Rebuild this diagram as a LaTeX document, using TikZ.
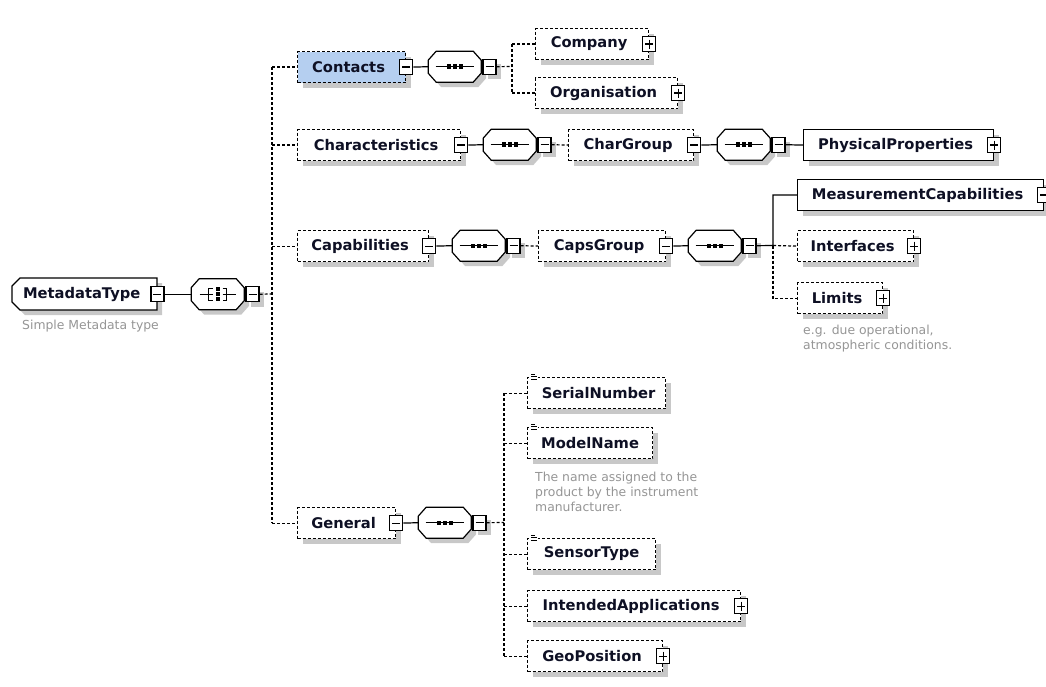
\documentclass[tikz,border=0pt]{standalone}
\usepackage{fontspec}
\setmainfont{DejaVu Sans}
\usetikzlibrary{shadows}
\definecolor{shadowc}{RGB}{200,200,200}
\definecolor{hl}{RGB}{181,207,240}
\definecolor{descc}{RGB}{150,150,150}
\definecolor{txt}{RGB}{14,16,36}
\newcommand\lbl{\fontsize{14.7}{17}\selectfont\bfseries}
\newcommand\dsc{\fontsize{12.4}{15}\selectfont}
\tikzset{
  ln/.style={line width=1.2pt, draw=black},
  dl/.style={ln, dash pattern=on 3pt off 2pt},
  sl/.style={ln},
  box/.style={draw=black, line width=1.2pt, fill=white, minimum height=31pt, inner sep=0pt,
    anchor=north west, text=txt, font=\lbl,
    drop shadow={shadow xshift=5pt, shadow yshift=-5pt, fill=shadowc, opacity=1}},
  optbox/.style={box, dash pattern=on 3pt off 2pt},
  reqbox/.style={box},
  btn/.style={draw=black, solid, line width=1.2pt, fill=white, minimum width=13pt,
    minimum height=15pt, inner sep=0pt},
  minusbtn/.style={btn, path picture={\draw[line width=1.2pt]
    ([xshift=2.5pt]path picture bounding box.west) -- ([xshift=-2.5pt]path picture bounding box.east);}},
  plusbtn/.style={btn, path picture={\draw[line width=1.2pt]
    ([xshift=2.5pt]path picture bounding box.west) -- ([xshift=-2.5pt]path picture bounding box.east)
    ([yshift=-3pt]path picture bounding box.north) -- ([yshift=3pt]path picture bounding box.south);}},
  comp/.style={minimum width=53pt, minimum height=31pt, inner sep=0pt, anchor=north west},
  desc/.style={anchor=north west, inner sep=0pt, text=descc, font=\dsc, align=left},
  cshadow/.style={drop shadow={shadow xshift=5pt, shadow yshift=-5pt, fill=shadowc, opacity=1}},
}
% compositor octagon around a named node
\newcommand\octo[1]{%
  \begin{scope}[shift={(#1.center)}]
    \fill[shadowc, shift={(5,5)}] (-18.5,-15.5) -- (18.5,-15.5) -- (26.5,-6.5) -- (26.5,6.5)
      -- (18.5,15.5) -- (-18.5,15.5) -- (-26.5,6.5) -- (-26.5,-6.5) -- cycle;
    \draw[ln, fill=white] (-18.5,-15.5) -- (18.5,-15.5) -- (26.5,-6.5) -- (26.5,6.5)
      -- (18.5,15.5) -- (-18.5,15.5) -- (-26.5,6.5) -- (-26.5,-6.5) -- cycle;
  \end{scope}}
\newcommand\seqc[3]{%
  \node[comp] (#1) at (#2,#3) {};
  \octo{#1}
  \begin{scope}[shift={(#1.center)}]
    \draw[ln] (-19,0) -- (19,0);
    \foreach \d in {-6,0,6} \fill (\d-2.2,-2.2) rectangle (\d+2.2,2.2);
  \end{scope}
  \node[minusbtn, cshadow, anchor=west] (#1-b) at ([xshift=1pt]#1.east) {};}
\begin{document}
\begin{tikzpicture}[x=1pt,y=-1pt]
\useasboundingbox (0,0) rectangle (1046,687);
\fill[white] (0,0) rectangle (1046,687);

% ---- root element
\fill[shadowc, shift={(5,5)}] (20,278) -- (157,278) -- (157,310) -- (20,310) -- (12,302) -- (12,286) -- cycle;
\draw[ln, fill=white] (20,278) -- (157,278) -- (157,310) -- (20,310) -- (12,302) -- (12,286) -- cycle;
\node[minimum width=145pt, minimum height=32pt, inner sep=0pt, anchor=north west, text=txt, font=\lbl]
  (mt) at (12,278) {MetadataType\kern6pt};
\node[minusbtn] (mt-b) at (mt.east) {};
\node[desc, anchor=west] (mtdesc) at (22,326) {Simple Metadata type};

% ---- "all" compositor
\node[comp, minimum height=32pt] (c0) at (191,278) {};
\octo{c0}
\begin{scope}[shift={(c0.center)}]
  \draw[ln] (-18,0) -- (-5,0) (5,0) -- (18,0);
  \draw[ln] (-5,-6) -- (-9,-6) -- (-9,6) -- (-5,6);
  \draw[ln] (5,-6) -- (9,-6) -- (9,6) -- (5,6);
  \foreach \d in {-5,0,5} \fill (-2,\d-2) rectangle (2,\d+2);
\end{scope}
\node[minusbtn, cshadow, anchor=west] (c0-b) at ([xshift=1pt]c0.east) {};

% ---- element boxes
\node[optbox, fill=hl, minimum width=108pt] (contacts) at (297,51) {Contacts\kern6pt};
\node[minusbtn] (contacts-b) at (contacts.east) {};
\node[optbox, minimum width=113pt] (company) at (535,28) {Company\kern6pt};
\node[plusbtn] (company-b) at (company.east) {};
\node[optbox, minimum width=142pt] (organisation) at (535,77) {Organisation\kern6pt};
\node[plusbtn] (organisation-b) at (organisation.east) {};

\node[optbox, minimum width=163pt] (characteristics) at (297,129) {Characteristics\kern6pt};
\node[minusbtn] (characteristics-b) at (characteristics.east) {};
\node[optbox, minimum width=125pt] (chargroup) at (568,129) {CharGroup\kern6pt};
\node[minusbtn] (chargroup-b) at (chargroup.east) {};
\node[reqbox, minimum width=190pt] (physprops) at (803,129) {PhysicalProperties\kern6pt};
\node[plusbtn] (physprops-b) at (physprops.east) {};

\node[optbox, minimum width=131pt] (capabilities) at (297,230) {Capabilities\kern6pt};
\node[minusbtn] (capabilities-b) at (capabilities.east) {};
\node[optbox, minimum width=127pt] (capsgroup) at (538,230) {CapsGroup\kern6pt};
\node[minusbtn] (capsgroup-b) at (capsgroup.east) {};
\node[reqbox, minimum width=246pt] (meascap) at (797,179) {MeasurementCapabilities\kern6pt};
\node[minusbtn] (meascap-b) at (meascap.east) {};
\node[optbox, minimum width=116pt] (interfaces) at (797,230) {Interfaces\kern6pt};
\node[plusbtn] (interfaces-b) at (interfaces.east) {};
\node[optbox, minimum width=85pt] (limits) at (797,282) {Limits\kern6pt};
\node[plusbtn] (limits-b) at (limits.east) {};
\node[desc] (limdesc) at (803,325) {e.g. due operational,\\atmospheric conditions.};

\node[optbox, minimum width=98pt] (general) at (297,507) {General\kern6pt};
\node[minusbtn] (general-b) at (general.east) {};
\node[optbox, minimum width=138pt] (serial) at (527,377) {\kern4pt SerialNumber};
\node[optbox, minimum width=125pt] (modelname) at (527,427) {ModelName};
\node[desc] (mndesc) at (535,472) {The name assigned to the\\product by the instrument\\manufacturer.};
\node[optbox, minimum width=128pt] (sensortype) at (527,538) {SensorType};
\node[optbox, minimum width=213pt] (intended) at (527,590) {IntendedApplications\kern6pt};
\node[plusbtn] (intended-b) at (intended.east) {};
\node[optbox, minimum width=135pt] (geoposition) at (527,640) {GeoPosition\kern6pt};
\node[plusbtn] (geoposition-b) at (geoposition.east) {};

% simple-type icons
\foreach \n in {serial,modelname,sensortype}{
  \begin{scope}[shift={(\n.north west)}]
    \fill[white] (2,-5) rectangle (11,4);
    \draw[line width=0.9pt] (4,-3) -- (8,-3) (4,-0.5) -- (10,-0.5) (4,2) -- (10,2);
  \end{scope}}

% ---- sequence compositors
\seqc{c1}{428}{51}
\seqc{c2}{483}{129}
\seqc{c3}{717}{129}
\seqc{c4}{452}{230}
\seqc{c5}{688}{230}
\seqc{c6}{418}{507}

% ---- junctions
\coordinate (j0) at (272,294);
\coordinate (j1) at (512,66.5);
\coordinate (j2) at (773,245.5);
\coordinate (j3) at (504,522.5);

% ---- connectors
\draw[sl] (mt-b.east) -- (c0.west);
\draw[dl] (c0-b.east) -- (j0);
\draw[dl] (j0 |- contacts.west) -- (j0 |- general.west);
\foreach \n in {contacts,characteristics,capabilities,general}
  \draw[dl] (j0 |- \n.west) -- (\n.west);

\draw[sl] (contacts-b.east) -- (c1.west);
\draw[dl] (c1-b.east) -- (j1);
\draw[dl] (j1 |- company.west) -- (j1 |- organisation.west);
\foreach \n in {company,organisation}
  \draw[dl] (j1 |- \n.west) -- (\n.west);

\draw[sl] (characteristics-b.east) -- (c2.west);
\draw[dl] (c2-b.east) -- (chargroup.west);
\draw[sl] (chargroup-b.east) -- (c3.west);
\draw[sl] (c3-b.east) -- (physprops.west);

\draw[sl] (capabilities-b.east) -- (c4.west);
\draw[dl] (c4-b.east) -- (capsgroup.west);
\draw[sl] (capsgroup-b.east) -- (c5.west);
\draw[sl] (c5-b.east) -- (j2) |- (meascap.west);
\draw[dl] (j2) -- (interfaces.west);
\draw[dl] (j2) |- (limits.west);

\draw[sl] (general-b.east) -- (c6.west);
\draw[dl] (c6-b.east) -- (j3);
\draw[dl] (j3 |- serial.west) -- (j3 |- geoposition.west);
\foreach \n in {serial,modelname,sensortype,intended,geoposition}
  \draw[dl] (j3 |- \n.west) -- (\n.west);
\end{tikzpicture}
\end{document}
